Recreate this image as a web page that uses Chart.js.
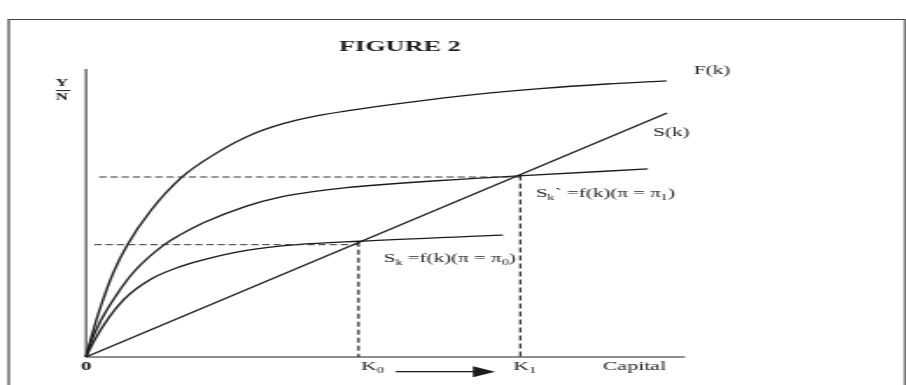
<!DOCTYPE html>
<html>
<head>
<meta charset="utf-8">
<script src="https://cdn.jsdelivr.net/npm/chart.js@4"></script>
<style>
  html, body { margin: 0; padding: 0; background: #fff; overflow: hidden; }
  #wrap { position: absolute; left: 0; top: 0; width: 518px; height: 385px; transform: scaleX(1.75); transform-origin: 0 0; }
</style>
</head>
<body>
<div id="wrap"><canvas id="c" width="518" height="385"></canvas></div>
<script>
// ---- data (capital per worker k, output/saving per worker) ----
const kF = [0, 1.0, 2.5, 4.5, 6.89, 10.8, 16.1, 21.7, 27.4, 32.9, 38.5, 44.1, 53.5, 64.7, 75.8, 86.9, 96.9];
const yF = [0, 7.8, 17.8, 29.0, 38.9, 50.8, 62.6, 70.7, 77.0, 81.0, 83.7, 85.6, 88.3, 91.1, 93.2, 94.8, 95.9];

const kS1 = [0, 0.78, 2.45, 5.23, 8.01, 13.0, 15.7, 19.7, 26.8, 32.4, 37.9, 43.5, 49.1, 58.5, 72.2, 93.8];
const yS1 = [0, 4.9, 12.6, 22.0, 29.6, 38.9, 42.4, 46.7, 52.4, 55.5, 57.4, 58.8, 59.8, 61.2, 62.9, 65.3];

const kS0 = [0, 0.78, 3.0, 6.34, 10.8, 15.2, 19.7, 26.8, 35.2, 45.7, 69.6];
const yS0 = [0, 3.3, 11.2, 20.0, 27.0, 31.0, 33.8, 37.0, 39.0, 40.2, 42.3];

const kLine = [0, 97.0];
const yLine = [0, 84.7];

const K0 = 45.5, K1 = 72.5;          // steady-state capital
const Y0 = 39.0, Y1 = 62.5;          // dashed reference levels
const Y0top = 40.0, Y1top = 63.0;    // tops of the vertical dashed lines
const dash0Start = 1.4, dash1Start = 2.2;

const xTickLabels = ['0', 'K\u2080', 'K\u2081', 'Capital'];

const toPts = (xs, ys) => xs.map((x, i) => ({ x: x, y: ys[i] }));

const SERIF = "'Liberation Serif','Times New Roman',serif";
const INK = '#1c1c1c';

const decor = {
  id: 'decor',
  beforeDraw(chart) {
    const ctx = chart.ctx, W = chart.width, H = chart.height;
    ctx.save();
    ctx.fillStyle = '#fff';
    ctx.fillRect(0, 0, W, H);
    ctx.strokeStyle = '#444';
    ctx.lineWidth = 1.2;
    ctx.beginPath();
    ctx.moveTo(5, H + 2); ctx.lineTo(5, 19.5); ctx.lineTo(W - 0.8, 19.5); ctx.lineTo(W - 0.8, H + 2);
    ctx.stroke();
    const a = chart.chartArea;
    ctx.strokeStyle = '#333';
    ctx.lineWidth = 1.1;
    ctx.beginPath(); ctx.moveTo(a.left, a.top); ctx.lineTo(a.left, a.bottom); ctx.stroke();
    ctx.strokeStyle = '#6a6a6a';
    ctx.lineWidth = 1.6;
    ctx.beginPath(); ctx.moveTo(a.left, a.bottom); ctx.lineTo(a.right, a.bottom); ctx.stroke();
    ctx.restore();
  },
  afterDatasetsDraw(chart) {
    const ctx = chart.ctx;
    const xs = chart.scales.x, ys = chart.scales.y;
    const X = v => xs.getPixelForValue(v), Y = v => ys.getPixelForValue(v);
    ctx.save();
    ctx.fillStyle = INK;
    ctx.textBaseline = 'middle';
    const t = (s, xd, yd, font, align) => { ctx.font = font; ctx.textAlign = align || 'left'; ctx.fillText(s, X(xd), Y(yd)); };
    const rich = (segs, xd, yd, size, weight) => {
      ctx.textAlign = 'left';
      let cx = X(xd); const cy = Y(yd);
      for (const [s, sub] of segs) {
        const fs = sub ? size * 0.68 : size;
        ctx.font = (weight || '') + ' ' + fs + 'px ' + SERIF;
        ctx.fillText(s, cx, sub ? cy + size * 0.3 : cy);
        cx += ctx.measureText(s).width;
      }
    };
    t('FIGURE 2', 52.4, 107.7, 'bold 15px ' + SERIF, 'center');
    t('Y', -4.0, 95.1, 'bold 10px ' + SERIF, 'center');
    t('N', -4.0, 90.0, 'bold 10px ' + SERIF, 'center');
    ctx.strokeStyle = INK; ctx.lineWidth = 1;
    ctx.beginPath(); ctx.moveTo(X(-5.0), Y(92.5)); ctx.lineTo(X(-2.6), Y(92.5)); ctx.stroke();
    t('F(k)', 101.5, 99.4, '12px ' + SERIF);
    t('S(k)', 94.7, 77.9, '12px ' + SERIF);
    rich([['S', false], ['k', true], ['` =f(k)(\u03c0 = \u03c0', false], ['1', true], [')', false]], 75.1, 56.6, 12);
    rich([['S', false], ['k', true], [' =f(k)(\u03c0 = \u03c0', false], ['0', true], [')', false]], 49.7, 34.0, 12);
    t(xTickLabels[0], 0, -3.3, 'bold 12px ' + SERIF, 'center');
    rich([['K', false], ['0', true]], 45.9, -3.4, 12.5);
    rich([['K', false], ['1', true]], 71.3, -3.4, 12.5);
    t(xTickLabels[3], 86.3, -3.4, '12.5px ' + SERIF);
    const ay = Y(-5.1);
    ctx.strokeStyle = INK; ctx.lineWidth = 1.2;
    ctx.beginPath(); ctx.moveTo(X(51.7), ay); ctx.lineTo(X(65), ay); ctx.stroke();
    ctx.beginPath();
    ctx.moveTo(X(64.6), ay - 5.5); ctx.lineTo(X(68.3), ay); ctx.lineTo(X(64.6), ay + 5.5); ctx.closePath();
    ctx.fill();
    ctx.restore();
  }
};

const curve = (label, pts, w) => ({
  label, data: pts, showLine: true, borderColor: INK, borderWidth: w || 1.35,
  pointRadius: 0, cubicInterpolationMode: 'monotone', fill: false, clip: false
});
const dashed = (label, pts, color, w, dash) => ({
  label, data: pts, showLine: true, borderColor: color, borderWidth: w, borderDash: dash,
  pointRadius: 0, tension: 0, fill: false, clip: false
});

new Chart(document.getElementById('c'), {
  type: 'scatter',
  data: {
    datasets: [
      dashed('upper level', toPts([dash1Start, K1], [Y1, Y1]), '#333', 1, [4.2, 2.2]),
      dashed('lower level', toPts([dash0Start, K0], [Y0, Y0]), '#333', 1, [4.2, 2.2]),
      dashed('K0', toPts([K0, K0], [Y0top, 0]), '#111', 1.1, [5, 3]),
      dashed('K1', toPts([K1, K1], [Y1top, 0]), '#111', 1.1, [5, 3]),
      curve('F(k)', toPts(kF, yF)),
      curve('Sk` (π = π1)', toPts(kS1, yS1)),
      curve('Sk (π = π0)', toPts(kS0, yS0)),
      curve('S(k)', toPts(kLine, yLine))
    ]
  },
  options: {
    responsive: false,
    animation: false,
    devicePixelRatio: 1,
    layout: { padding: { left: 49.14, right: 126.57, top: 69, bottom: 28 } },
    plugins: { legend: { display: false }, tooltip: { enabled: false }, title: { display: false } },
    scales: {
      x: { type: 'linear', min: 0, max: 100, display: false },
      y: { type: 'linear', min: 0, max: 100, display: false }
    }
  },
  plugins: [decor]
});
</script>
</body>
</html>
